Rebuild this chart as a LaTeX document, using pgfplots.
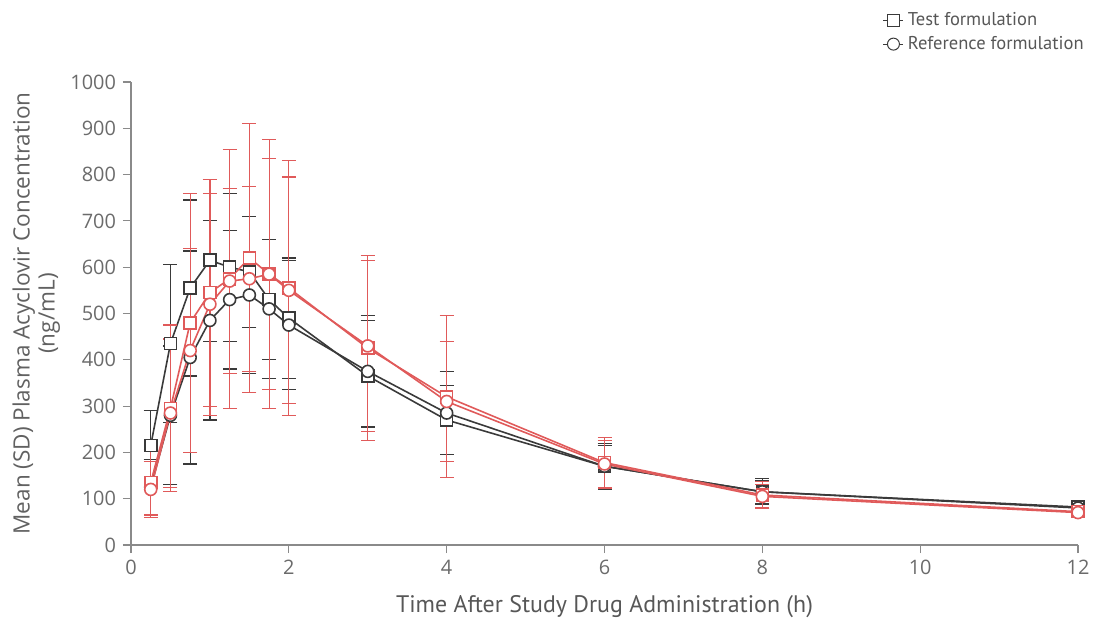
\documentclass[border=0pt]{standalone}
\usepackage{pgfplots}
\pgfplotsset{compat=1.18}
\usepackage{fontspec}
\setmainfont{Open Sans}
\newfontfamily\legfont{PT Sans}
\definecolor{blk}{HTML}{3A3A3A}
\definecolor{rd}{HTML}{E05A5A}
\definecolor{axc}{HTML}{8A8A8A}
\begin{document}
\begin{tikzpicture}
\begin{axis}[
  scale only axis, width=473.5bp, height=231.5bp,
  at={(0,0)}, anchor=south west,
  xmin=0, xmax=12, ymin=0, ymax=1000,
  xtick={0,2,...,12}, ytick={0,100,...,1000},
  axis lines=left, axis line style={axc, -, line width=0.8pt},
  tick style={axc, line width=0.6pt}, tick align=outside,
  major tick length=4bp,
  /pgf/number format/assume math mode=true,
  /pgf/number format/1000 sep={},
  ticklabel style={font=\fontsize{10}{12}\selectfont, text=blk!75},
  xlabel={Time After Study Drug Administration (h)},
  xlabel style={font=\fontsize{12}{14}\selectfont\legfont, text=blk!85, at={(axis description cs:0.5,0)}, anchor=center, yshift=-31bp},
  ylabel={Mean (SD) Plasma Acyclovir Concentration\\(ng/mL)},
  ylabel style={font=\fontsize{11.3}{12.5}\selectfont, text=blk!80, align=center, at={(axis description cs:-0.1,0.5)}, anchor=center, rotate=0},
  clip=false,
  legend style={at={(axis description cs:1.0127,1.165)}, anchor=north east, draw=none, fill=none,
    font=\fontsize{9.3}{11}\selectfont\legfont, text=blk!85, row sep=0pt, inner sep=1pt},
  legend cell align=left,
  legend image code/.code={\draw[#1, line width=0.5pt] (0bp,0bp) -- (10bp,0bp); \draw[#1, mark size=2.5bp, line width=0.5pt] plot coordinates {(5bp,0bp)};},
  error bars/y dir=both, error bars/y explicit,
  error bars/error mark options={rotate=90, mark size=3.5bp, line width=0.6pt},
]
% Black test
\addplot[blk, line width=0.8pt, mark=square*, mark options={fill=white, solid, mark size=3bp},
  error bars/error bar style={blk, line width=0.6pt}]
  coordinates {
  (0.25,215) +- (0,75)
  (0.5,435) +- (0,170)
  (0.75,555) +- (0,190)
  (1,615) +- (0,175)
  (1.25,600) +- (0,160)
  (1.5,590) +- (0,120)
  (1.75,530) +- (0,130)
  (2,490) +- (0,130)
  (3,365) +- (0,120)
  (4,270) +- (0,75)
  (6,170) +- (0,45)
  (8,115) +- (0,25)
  (12,82) +- (0,10)
  };
\addlegendentry{Test formulation}
% Black reference
\addplot[blk, line width=0.8pt, mark=*, mark options={fill=white, solid, mark size=3bp},
  error bars/error bar style={blk, line width=0.6pt}]
  coordinates {
  (0.25,125) +- (0,60)
  (0.5,280) +- (0,150)
  (0.75,405) +- (0,230)
  (1,485) +- (0,215)
  (1.25,530) +- (0,150)
  (1.5,540) +- (0,170)
  (1.75,510) +- (0,150)
  (2,475) +- (0,140)
  (3,375) +- (0,120)
  (4,285) +- (0,90)
  (6,170) +- (0,50)
  (8,115) +- (0,28)
  (12,80) +- (0,10)
  };
\addlegendentry{Reference formulation}
% Red test
\addplot[rd, line width=0.8pt, mark=square*, mark options={fill=white, solid, mark size=3bp},
  error bars/error bar style={rd, line width=0.6pt}, forget plot]
  coordinates {
  (0.25,135) +- (0,70)
  (0.5,295) +- (0,180)
  (0.75,480) +- (0,280)
  (1,545) +- (0,245)
  (1.25,575) +- (0,280)
  (1.5,620) +- (0,290)
  (1.75,585) +- (0,290)
  (2,555) +- (0,275)
  (3,425) +- (0,200)
  (4,320) +- (0,175)
  (6,178) +- (0,55)
  (8,108) +- (0,30)
  (12,72) +- (0,8)
  };
% Red reference
\addplot[rd, line width=0.8pt, mark=*, mark options={fill=white, solid, mark size=3bp},
  error bars/error bar style={rd, line width=0.6pt}, forget plot]
  coordinates {
  (0.25,120) +- (0,60)
  (0.5,285) +- (0,160)
  (0.75,420) +- (0,220)
  (1,520) +- (0,240)
  (1.25,570) +- (0,200)
  (1.5,575) +- (0,200)
  (1.75,585) +- (0,250)
  (2,550) +- (0,245)
  (3,430) +- (0,185)
  (4,310) +- (0,130)
  (6,175) +- (0,50)
  (8,105) +- (0,25)
  (12,70) +- (0,8)
  };
\end{axis}
\pgfresetboundingbox
\path[use as bounding box] (-65.5bp,-41.5bp) rectangle (483bp,272.5bp);
\end{tikzpicture}
\end{document}
